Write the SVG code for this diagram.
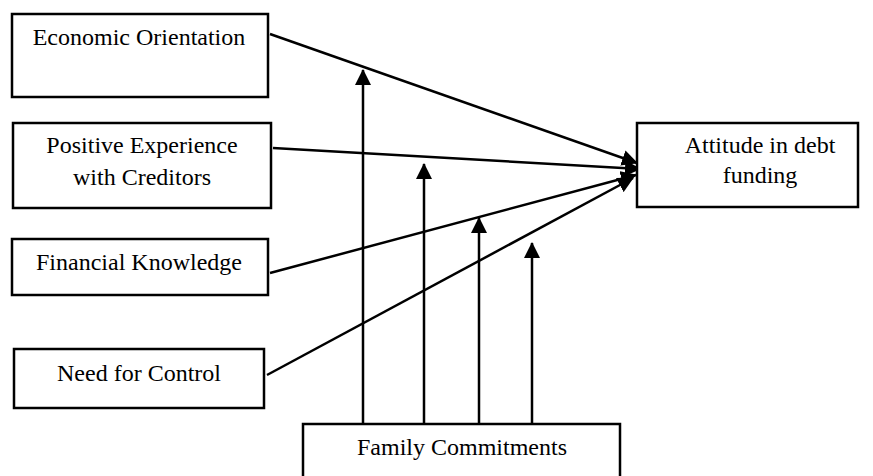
<svg xmlns="http://www.w3.org/2000/svg" width="873" height="476" viewBox="0 0 873 476">
<style>
.box{fill:#fff;stroke:#000;stroke-width:2.5}
.t{font-family:"Liberation Serif","Times New Roman",serif;font-size:24px;fill:#000;text-anchor:middle}
.c{stroke:#000;stroke-width:2.5;fill:none;marker-end:url(#ah)}
</style>
<defs>
<marker id="ah" markerUnits="userSpaceOnUse" markerWidth="16" markerHeight="16" viewBox="0 0 16 16" refX="15" refY="8" orient="auto">
<path d="M0,0 L16,8 L0,16 Z" fill="#000"/>
</marker>
</defs>
<g id="connectors">
<line class="c" x1="270" y1="34" x2="637" y2="163"/>
<line class="c" x1="273" y1="148" x2="640" y2="169"/>
<line class="c" x1="270" y1="273" x2="636" y2="175"/>
<line class="c" x1="267" y1="375" x2="633" y2="178"/>
<line class="c" x1="363" y1="424" x2="363" y2="70"/>
<line class="c" x1="424" y1="424" x2="424" y2="164"/>
<line class="c" x1="479" y1="424" x2="479" y2="218"/>
<line class="c" x1="532" y1="424" x2="532" y2="243"/>
</g>
<g id="economic-orientation">
<rect class="box" x="12" y="14" width="256" height="83"/>
<text class="t" x="139" y="45">Economic Orientation</text>
</g>
<g id="positive-experience">
<rect class="box" x="13" y="123" width="258" height="85"/>
<text class="t" x="142" y="153">Positive Experience</text>
<text class="t" x="142" y="185">with Creditors</text>
</g>
<g id="financial-knowledge">
<rect class="box" x="12" y="239" width="256" height="56"/>
<text class="t" x="139" y="270">Financial Knowledge</text>
</g>
<g id="need-for-control">
<rect class="box" x="14" y="349" width="250" height="59"/>
<text class="t" x="139" y="381">Need for Control</text>
</g>
<g id="attitude">
<rect class="box" x="637" y="123" width="221" height="84"/>
<text class="t" x="760" y="153">Attitude in debt</text>
<text class="t" x="760" y="183">funding</text>
</g>
<g id="family-commitments">
<rect class="box" x="303" y="424" width="317" height="60"/>
<text class="t" x="462" y="455">Family Commitments</text>
</g>
</svg>
